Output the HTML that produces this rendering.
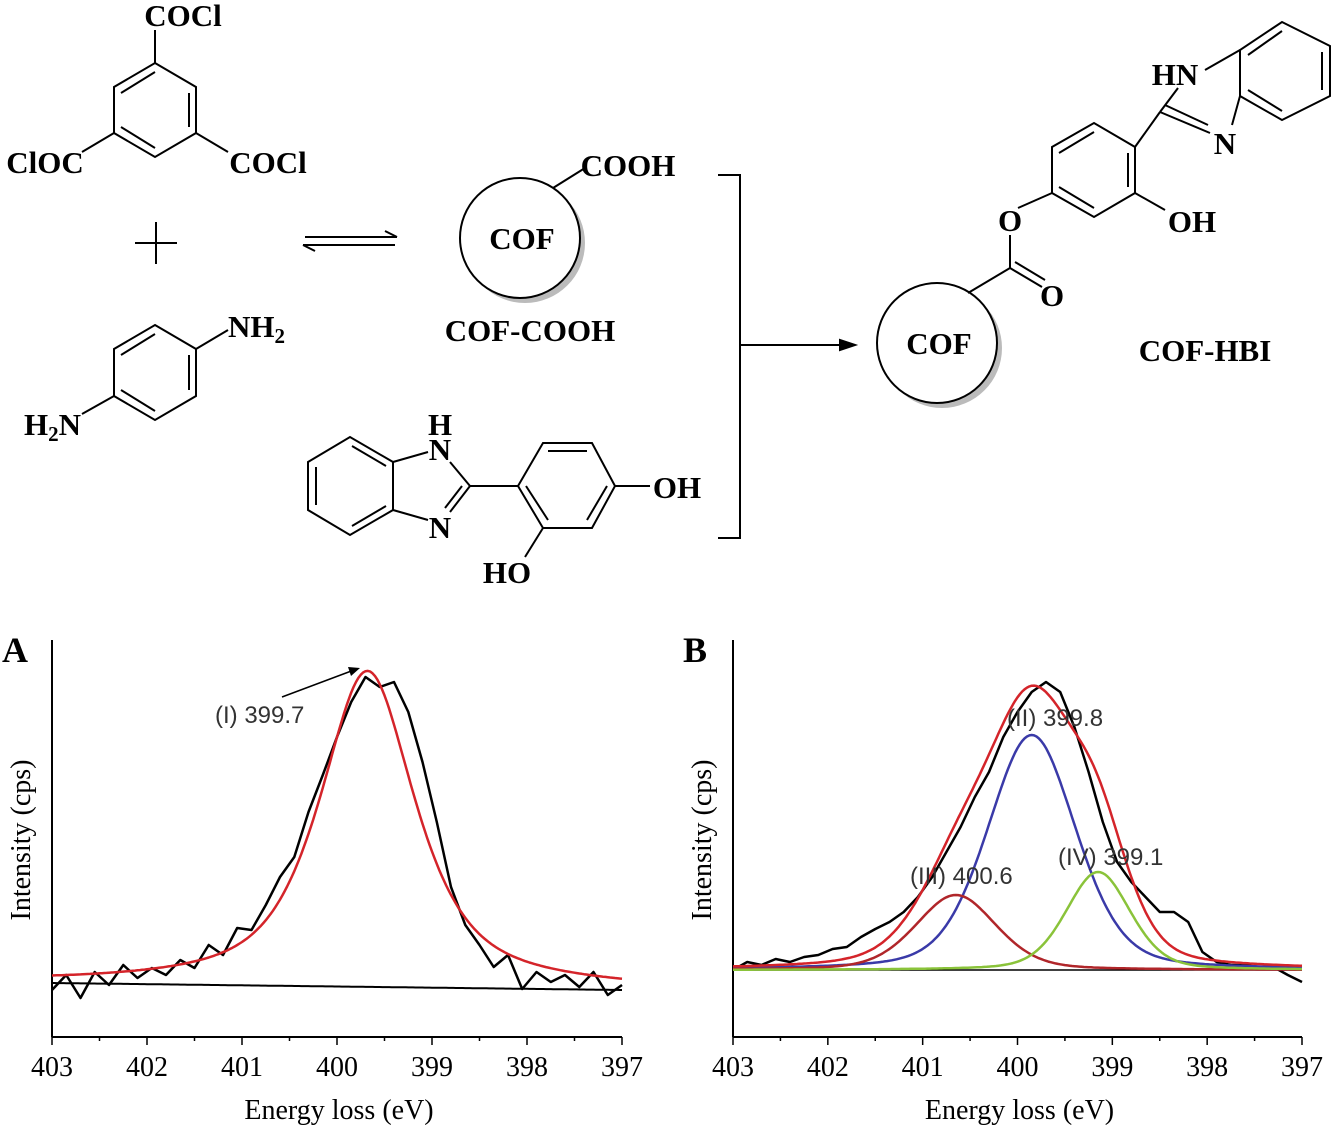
<!DOCTYPE html>
<html><head><meta charset="utf-8">
<style>
body{margin:0;background:#fff;}
svg text{font-family:"Liberation Serif",serif;}
.b{font-weight:bold;font-size:31px;}
.s{font-family:"Liberation Sans",sans-serif!important;font-size:24px;fill:#333;}
</style></head>
<body>
<svg id="root" width="1332" height="1125" viewBox="0 0 1332 1125" xmlns="http://www.w3.org/2000/svg">
<g id="scheme" stroke="#000" stroke-width="2" fill="none">
  <polygon points="155,63 196,87 196,133 155,157 114,133 114,87"/>
  <line x1="189" y1="93" x2="189" y2="127"/><line x1="121" y1="127" x2="155" y2="148"/><line x1="121" y1="93" x2="155" y2="72"/>
  <line x1="155" y1="63" x2="155" y2="30"/><line x1="114" y1="133" x2="82" y2="152"/><line x1="196" y1="133" x2="228" y2="152"/>
  <line x1="135" y1="243" x2="177" y2="243"/><line x1="156" y1="222" x2="156" y2="264"/>
  <line x1="305" y1="237" x2="397" y2="237"/><line x1="397" y1="237" x2="385" y2="231"/>
  <line x1="303" y1="245" x2="395" y2="245"/><line x1="303" y1="245" x2="315" y2="251"/>
  <polygon points="155,325 196,349 196,396 155,420 114,396 114,349"/>
  <line x1="189" y1="355" x2="189" y2="390"/><line x1="121" y1="390" x2="155" y2="411"/><line x1="121" y1="355" x2="155" y2="334"/>
  <line x1="196" y1="349" x2="228" y2="330"/><line x1="114" y1="396" x2="82" y2="414"/>
  <circle cx="525" cy="243" r="60" fill="#bbb" stroke="none"/>
  <circle cx="520" cy="238" r="60" fill="#fff"/>
  <line x1="553" y1="188" x2="585" y2="168"/>
  <polygon points="308,462 350,437 393,462 393,510 350,535 308,510"/>
  <line x1="316" y1="467" x2="316" y2="505"/><line x1="352" y1="446" x2="386" y2="466"/><line x1="352" y1="526" x2="386" y2="506"/>
  <line x1="393" y1="462" x2="428" y2="452"/><line x1="393" y1="510" x2="428" y2="520"/>
  <line x1="450" y1="462" x2="470" y2="486"/><line x1="470" y1="486" x2="450" y2="512"/><line x1="462" y1="486" x2="445" y2="508"/>
  <line x1="470" y1="486" x2="518" y2="486"/>
  <polygon points="518,486 543,443 592,443 615,486 592,528 543,528"/>
  <line x1="548" y1="451" x2="587" y2="451"/><line x1="607" y1="486" x2="587" y2="520"/><line x1="526" y1="486" x2="548" y2="520"/>
  <line x1="615" y1="486" x2="650" y2="486"/><line x1="543" y1="528" x2="525" y2="557"/>
  <polyline points="718,175 740,175 740,538 718,538"/>
  <line x1="740" y1="345" x2="852" y2="345"/><polygon points="855,345 840,340 840,350" fill="#000"/>
  <circle cx="942" cy="348" r="60" fill="#bbb" stroke="none"/>
  <circle cx="937" cy="343" r="60" fill="#fff"/>
  <line x1="968" y1="293" x2="1010" y2="268"/><line x1="1010" y1="268" x2="1042" y2="287"/><line x1="1015" y1="262" x2="1045" y2="280"/>
  <line x1="1010" y1="268" x2="1010" y2="235"/><line x1="1018" y1="208" x2="1052" y2="193"/>
  <polygon points="1052,193 1052,147 1094,123 1135,147 1135,193 1094,217"/>
  <line x1="1059" y1="153" x2="1094" y2="132"/><line x1="1128" y1="153" x2="1128" y2="187"/><line x1="1059" y1="187" x2="1094" y2="208"/>
  <line x1="1135" y1="193" x2="1165" y2="210"/><line x1="1135" y1="147" x2="1160" y2="112"/>
  <line x1="1160" y1="112" x2="1178" y2="88"/><line x1="1160" y1="112" x2="1210" y2="133"/><line x1="1165" y1="105" x2="1208" y2="125"/>
  <polygon points="1240,96 1240,50 1282,22 1330,46 1330,96 1282,120"/>
  <line x1="1248" y1="55" x2="1282" y2="31"/><line x1="1322" y1="52" x2="1322" y2="90"/><line x1="1248" y1="90" x2="1282" y2="111"/>
  <line x1="1240" y1="50" x2="1205" y2="70"/><line x1="1240" y1="96" x2="1232" y2="125"/>
</g>
<g>
  <text class="b" x="183" y="26" text-anchor="middle">COCl</text>
  <text class="b" x="45" y="173" text-anchor="middle">ClOC</text>
  <text class="b" x="268" y="173" text-anchor="middle">COCl</text>
  <text class="b" x="228" y="337">NH<tspan font-size="21" dy="6">2</tspan></text>
  <text class="b" x="24" y="435">H<tspan font-size="21" dy="6">2</tspan><tspan dy="-6">N</tspan></text>
  <text class="b" x="522" y="249" text-anchor="middle">COF</text>
  <text class="b" x="628" y="176" text-anchor="middle">COOH</text>
  <text class="b" x="530" y="341" text-anchor="middle">COF-COOH</text>
  <text class="b" x="440" y="435" text-anchor="middle">H</text>
  <text class="b" x="440" y="460" text-anchor="middle">N</text>
  <text class="b" x="440" y="538" text-anchor="middle">N</text>
  <text class="b" x="677" y="498" text-anchor="middle">OH</text>
  <text class="b" x="507" y="583" text-anchor="middle">HO</text>
  <text class="b" x="939" y="354" text-anchor="middle">COF</text>
  <text class="b" x="1052" y="306" text-anchor="middle">O</text>
  <text class="b" x="1010" y="231" text-anchor="middle">O</text>
  <text class="b" x="1192" y="232" text-anchor="middle">OH</text>
  <text class="b" x="1175" y="85" text-anchor="middle">HN</text>
  <text class="b" x="1225" y="154" text-anchor="middle">N</text>
  <text class="b" x="1205" y="361" text-anchor="middle">COF-HBI</text>
</g>
<g id="chartA"></g>
<g id="chartB"></g>
</svg>
<script>
const xTicks = [403,402,401,400,399,398,397];
const xTickLabels = ["403","402","401","400","399","398","397"];
const energyA = [403,402.85,402.7,402.55,402.4,402.25,402.1,401.95,401.8,401.65,401.5,401.35,401.2,401.05,400.9,400.75,400.6,400.45,400.3,400.15,400,399.85,399.7,399.55,399.4,399.25,399.1,398.95,398.8,398.65,398.5,398.35,398.2,398.05,397.9,397.75,397.6,397.45,397.3,397.15,397];
const intensityA = [47,62,39,65,52,72,59,69,62,77,69,92,82,109,107,132,160,180,225,262,300,335,360,350,355,325,275,215,150,112,92,70,82,48,65,55,62,50,65,42,52];
const energyB = energyA;
const intensityB = [67,75,72,78,75,80,82,88,90,100,108,115,125,140,160,185,210,240,265,300,325,345,355,345,310,265,215,175,155,140,125,125,115,85,75,72,72,70,70,62,55];
const baselineA = [54,47];
const peakA = {c:399.68,h:316,w:0.6,eta:0.75};
const baselineB = 67;
const peaksB = [{c:399.85,h:235,w:0.55,eta:0.3},{c:400.65,h:75,w:0.5,eta:0.3},{c:399.15,h:98,w:0.4,eta:0.3}];
const peakColorsB = ["#3a3aa8","#b0262a","#8ac33a"];
const NS="http://www.w3.org/2000/svg";
function pv(p,x){const d=(x-p.c)/p.w;return p.h*(p.eta/(1+d*d)+(1-p.eta)*Math.exp(-Math.LN2*d*d));}
function mk(tag,attrs,parent){const e=document.createElementNS(NS,tag);for(const k in attrs)e.setAttribute(k,attrs[k]);parent.appendChild(e);return e;}
function axes(g,x0,x1,letter){
  const sx=v=>x0+(403-v)/6*(x1-x0);
  const sy=v=>1037-v;
  const ya=mk('line',{x1:x0,y1:640,x2:x0,y2:1037,stroke:'#000','stroke-width':2},g);
  
  
  const xa=mk('line',{x1:x0,y1:1037,x2:x1,y2:1037,stroke:'#000','stroke-width':2},g);
  
  
  for(let v=403;v>=397;v-=0.5){
    const tk=mk('line',{x1:sx(v),y1:1037,x2:sx(v),y2:v%1===0?1045:1041,stroke:'#000','stroke-width':1.5},g);
    
    
  }
  xTicks.forEach((v,i)=>{
    const t=mk('text',{x:sx(v),y:1076,'text-anchor':'middle','font-size':28},g);t.textContent=xTickLabels[i];
    
    
  });
  const xt=mk('text',{x:(x0+x1)/2+2,y:1119,'text-anchor':'middle','font-size':28},g);xt.textContent='Energy loss (eV)';
  
  
  const yt=mk('text',{x:0,y:0,'text-anchor':'middle','font-size':28,transform:`translate(${x0-22},840) rotate(-90)`},g);yt.textContent='Intensity (cps)';
  
  
  const L=mk('text',{x:x0-50,y:662,'font-size':36,'font-weight':'bold'},g);L.textContent=letter;
  
  
  return [sx,sy];
}
function path(g,xs,f,color,w,name){
  const d=xs.map((x,i)=>(i?'L':'M')+f[0](x).toFixed(1)+','+f[1](i,x).toFixed(1)).join('');
  const p=mk('path',{d:d,fill:'none',stroke:color,'stroke-width':w,'stroke-linejoin':'round'},g);
  
  
}
const grid=[];for(let i=0;i<=240;i++)grid.push(403-i*0.025);
(function(){
  const g=document.getElementById('chartA');
  const [sx,sy]=axes(g,52,622,'A');
  const base=x=>baselineA[0]+(403-x)/6*(baselineA[1]-baselineA[0]);
  path(g,grid,[sx,(i,x)=>sy(base(x))],'#000',2,'background-line');
  path(g,energyA,[sx,(i)=>sy(intensityA[i])],'#000',2.5,'raw-data');
  path(g,grid,[sx,(i,x)=>sy(base(x)+pv(peakA,x))],'#d4242a',2.5,'fit-envelope');
  const ar=mk('line',{x1:282,y1:697,x2:354,y2:670,stroke:'#000','stroke-width':1.5},g);
  
  
  const ah=mk('polygon',{points:'360,668 348,667 351,676',fill:'#000'},g);
  
  
  const t=mk('text',{x:215,y:723,class:'s'},g);t.textContent='(I) 399.7';
  
  
})();
(function(){
  const g=document.getElementById('chartB');
  const [sx,sy]=axes(g,733,1302,'B');
  path(g,grid,[sx,()=>sy(baselineB)],'#000',1.5,'background-line');
  path(g,energyB,[sx,(i)=>sy(intensityB[i])],'#000',2.5,'raw-data');
  peaksB.forEach((p,k)=>path(g,grid,[sx,(i,x)=>sy(baselineB+pv(p,x))],peakColorsB[k],2.5,'component-peak'));
  path(g,grid,[sx,(i,x)=>sy(baselineB+peaksB.reduce((s,p)=>s+pv(p,x),0)*1.07)],'#d4242a',2.5,'fit-envelope');
  [['(II) 399.8',1007,726],['(III) 400.6',910,884],['(IV) 399.1',1058,865]].forEach(a=>{
    const t=mk('text',{x:a[1],y:a[2],class:'s'},g);t.textContent=a[0];
    
    
  });
})();
</script>
</body></html>
